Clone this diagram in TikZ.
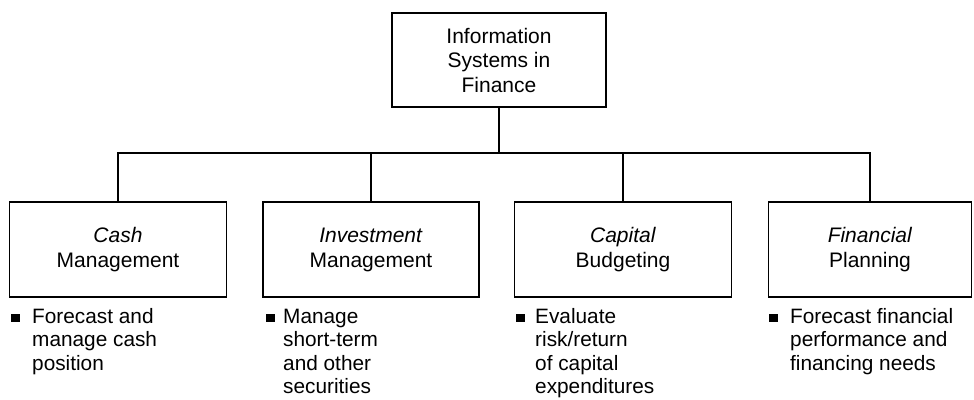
\documentclass[tikz,border=0pt]{standalone}
\usepackage{fontspec}
\setmainfont{Liberation Sans}
\begin{document}
\begin{tikzpicture}[x=1pt,y=-1pt,
  box/.style={draw=black,line width=1.8pt,inner sep=0pt,align=center,font=\fontsize{21}{25}\selectfont},
  topbox/.style={box,font=\fontsize{21}{24.5}\selectfont},
  conn/.style={draw=black,line width=1.8pt},
  btext/.style={anchor=base west,inner sep=0pt,align=left,font=\fontsize{20.8}{23.5}\selectfont},
  bullet/.style={fill=black,inner sep=0pt,minimum size=8.5pt}]
\useasboundingbox (0,0) rectangle (974,399);
\node[topbox,minimum width=214pt,minimum height=94pt] (top) at (499,60) {Information\\Systems in\\Finance};
\node[box,minimum width=217pt,minimum height=95pt] (cash) at (118,249.5) {\textit{Cash}\\Management};
\node[box,minimum width=216pt,minimum height=95pt] (inv) at (371,249.5) {\textit{Investment}\\Management};
\node[box,minimum width=217pt,minimum height=95pt] (cap) at (623,249.5) {\textit{Capital}\\Budgeting};
\node[box,minimum width=203pt,minimum height=95pt] (fin) at (870,249.5) {\textit{Financial}\\Planning};
\coordinate (bus) at (499,153);
\draw[conn] (top.south) -- (bus);
\draw[conn] (cash.north) |- (bus) -| (fin.north);
\draw[conn] (inv.north) -- (inv.north |- bus);
\draw[conn] (cap.north) -- (cap.north |- bus);
\node[bullet] (b1) at (15.5,318) {};
\node[btext] (t1) at (32,370) {Forecast and\\manage cash\\position};
\node[bullet] (b2) at (270.5,318) {};
\node[btext] (t2) at (283,393.5) {Manage\\short-term\\and other\\securities};
\node[bullet] (b3) at (520.5,318) {};
\node[btext] (t3) at (535,393.5) {Evaluate\\risk/return\\of capital\\expenditures};
\node[bullet] (b4) at (773.5,318) {};
\node[btext] (t4) at (790,370) {Forecast financial\\performance and\\financing needs};
\end{tikzpicture}
\end{document}
